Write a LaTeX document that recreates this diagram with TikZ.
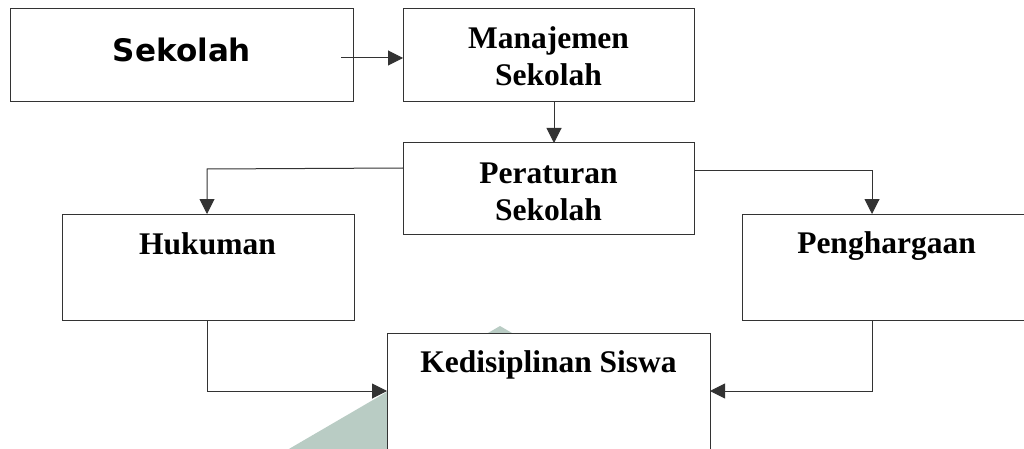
\documentclass[tikz,border=0pt]{standalone}
\usepackage{fontspec}
\setmainfont{Liberation Serif}
\newfontfamily\sansbold{DejaVu Sans}
\usetikzlibrary{arrows.meta}
\definecolor{wm}{HTML}{B9CCC4}
\definecolor{edge}{HTML}{333333}
\tikzset{
  box/.style={draw=edge, line width=1pt, fill=white, rectangle, inner sep=0pt},
  lbl/.style={anchor=base, inner sep=0pt, font=\fontsize{31.5}{37}\selectfont\bfseries},
  slbl/.style={anchor=base, inner sep=0pt, font=\fontsize{31}{37}\sansbold\bfseries},
  conn/.style={draw=edge, line width=1pt},
  arr/.style={conn, -{Triangle[length=15pt,width=15pt]}}
}
\begin{document}
\begin{tikzpicture}[x=1pt,y=-1pt]
\useasboundingbox (0,0) rectangle (1024,449);
\clip (0,0) rectangle (1024,449);
\fill[white] (0,0) rectangle (1024,449);
% watermark
\fill[wm] (500,326) -- (270,460) -- (730,460) -- cycle;
% boxes
\node[box, minimum width=343pt, minimum height=93pt] (sek) at (181.5,55.5) {};
\node[box, minimum width=291pt, minimum height=93pt] (man) at (548.5,55.5) {};
\node[box, minimum width=291pt, minimum height=91pt] (per) at (548.5,188.5) {};
\node[box, minimum width=292pt, minimum height=106pt] (huk) at (208,267) {};
\node[box, minimum width=290pt, minimum height=106pt] (pen) at (887,267) {};
\node[box, minimum width=323pt, minimum height=140pt] (ked) at (548.5,403) {};
% labels
\node[slbl] (tsek) at (182,62) {Sekolah};
\node[lbl] (tman1) at (548.5,49) {Manajemen};
\node[lbl] (tman2) at (548.5,86) {Sekolah};
\node[lbl] (tper1) at (548.5,183) {Peraturan};
\node[lbl] (tper2) at (548.5,220) {Sekolah};
\node[lbl] (thuk) at (207.5,254) {Hukuman};
\node[lbl] (tpen) at (886.5,253) {Penghargaan};
\node[lbl] (tked) at (548.5,372) {Kedisiplinan Siswa};
% connector coordinates
\coordinate (c1) at (341,58);
\coordinate (c2) at (403,58);
\coordinate (c3) at (554,102);
\coordinate (c4) at (554,143);
\coordinate (c5) at (403,168);
\coordinate (c6) at (207,169);
\coordinate (c7) at (207,214);
\coordinate (c8) at (694,171);
\coordinate (c9) at (872,171);
\coordinate (c10) at (872,214);
\coordinate (c11) at (207,320);
\coordinate (c12) at (207,391);
\coordinate (c13) at (387,391);
\coordinate (c14) at (872,320);
\coordinate (c15) at (872,391);
\coordinate (c16) at (710,391);
% connectors
\draw[arr] (c1) -- (c2);
\draw[arr] (c3) -- (c4);
\draw[arr] (c5) -- (c6) -- (c7);
\draw[arr] (c8) -- (c9) -- (c10);
\draw[arr] (c11) -- (c12) -- (c13);
\draw[arr] (c14) -- (c15) -- (c16);
\end{tikzpicture}
\end{document}
